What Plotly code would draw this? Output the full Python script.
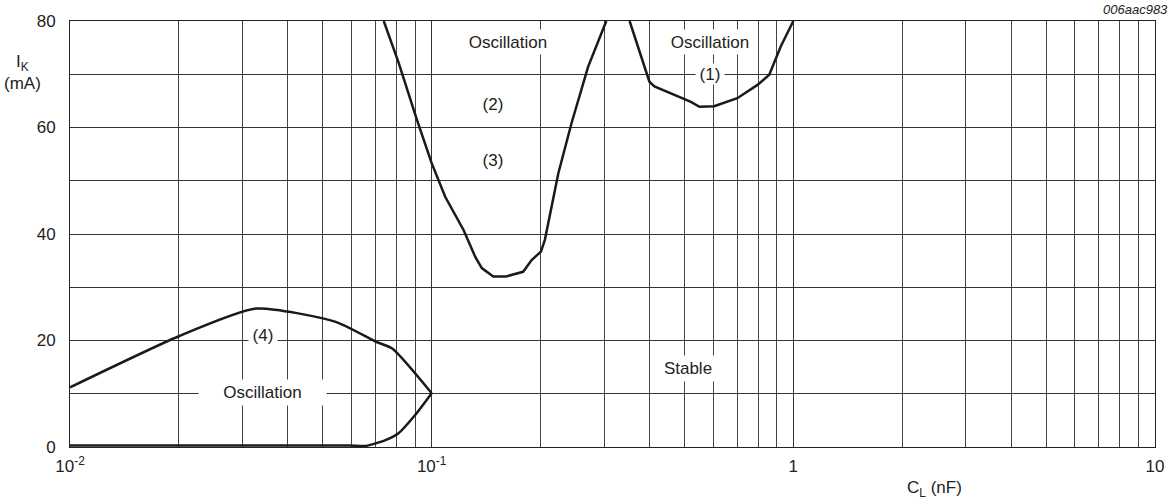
import math
import plotly.graph_objects as go

# Curve (4): upper boundary and lower boundary of the low-C oscillation region
c4_upper_x = [0.01, 0.02, 0.0327, 0.0543, 0.07, 0.0778, 0.1]
c4_upper_y = [11.2, 20.8, 26.0, 23.5, 19.8, 18.5, 10.1]
c4_lower_x = [0.1, 0.09, 0.081, 0.0745, 0.0657, 0.059, 0.01]
c4_lower_y = [10.1, 6.0, 2.6, 1.3, 0.2, 0.3, 0.3]

# Curves (2)/(3): U-shaped boundary
c23_x = [0.0737, 0.0811, 0.0911, 0.1, 0.109, 0.1225, 0.132, 0.1376, 0.148, 0.16,
         0.179, 0.189, 0.2005, 0.2056, 0.224, 0.2436, 0.2707, 0.304]
c23_y = [80, 72.1, 61.4, 53.3, 47.0, 40.75, 35.7, 33.6, 32.0, 32.0,
         32.9, 35.1, 36.7, 38.9, 51.4, 60.8, 71.4, 80]

# Curve (1)
c1_x = [0.3526, 0.4, 0.413, 0.479, 0.521, 0.55, 0.604, 0.70, 0.796, 0.858, 0.923, 1.0]
c1_y = [80, 68.6, 67.7, 65.8, 64.8, 63.9, 64.0, 65.5, 68.0, 69.9, 75.2, 80]

x_tickvals = [0.01, 0.1, 1, 10]
x_ticktext = ["10<sup>-2</sup>", "10<sup>-1</sup>", "1", "10"]
y_tickvals = [0, 20, 40, 60, 80]
minor_x = [m * d for d in (0.01, 0.1, 1) for m in range(2, 10)]

# label text, x, y, box width, box height
labels = [
    (0.163, 76.0, "Oscillation", 92, 24),
    (0.587, 76.0, "Oscillation", 92, 24),
    (0.587, 70.0, "(1)", 28, 20),
    (0.148, 64.4, "(2)", 28, 20),
    (0.148, 53.9, "(3)", 28, 20),
    (0.0341, 21.0, "(4)", 28, 20),
    (0.034, 10.3, "Oscillation", 127, 25),
    (0.511, 14.8, "Stable", 64, 25),
]

FONT = "Liberation Sans, Arial, sans-serif"
FS = 17
line = dict(color="#1a1a1a", width=2.5)

fig = go.Figure()
fig.add_trace(go.Scatter(x=c4_upper_x, y=c4_upper_y, mode="lines", line=dict(line, shape="spline", smoothing=0.6)))
fig.add_trace(go.Scatter(x=c4_lower_x, y=c4_lower_y, mode="lines", line=dict(line, shape="spline", smoothing=0.6)))
fig.add_trace(go.Scatter(x=c23_x, y=c23_y, mode="lines", line=line))
fig.add_trace(go.Scatter(x=c1_x, y=c1_y, mode="lines", line=line))

for x, y, t, w, h in labels:
    fig.add_annotation(x=math.log10(x), y=y, xref="x", yref="y", text=t, showarrow=False,
                       bgcolor="white", borderpad=0, width=w, height=h, align="center",
                       font=dict(family=FONT, size=FS, color="#222"))

fig.add_annotation(x=1.0, y=1.0, xref="paper", yref="paper", yshift=2, text="<i>006aac983</i>",
                   showarrow=False, xanchor="right", yanchor="bottom", xshift=15,
                   font=dict(family=FONT, size=13, color="#222"))
fig.add_annotation(x=0, y=0.88, xref="paper", yref="paper", xshift=-48, text="I<sub>K</sub><br>(mA)",
                   showarrow=False, xanchor="center", yanchor="middle",
                   font=dict(family=FONT, size=FS, color="#222"))
fig.add_annotation(x=0.797, y=0, xref="paper", yref="paper", yshift=-29, text="C<sub>L</sub> (nF)",
                   showarrow=False, xanchor="center", yanchor="top",
                   font=dict(family=FONT, size=FS, color="#222"))

fig.update_layout(
    width=1176, height=502,
    margin=dict(l=70, r=17, t=21, b=55),
    plot_bgcolor="white", paper_bgcolor="white",
    showlegend=False,
    font=dict(family=FONT, size=FS, color="#222"),
    xaxis=dict(type="log", range=[-2, 1], tickmode="array", tickvals=x_tickvals, ticktext=x_ticktext,
               showgrid=True, gridcolor="#333", gridwidth=1, ticks="", zeroline=False,
               showline=True, linecolor="#222", linewidth=1, mirror=True,
               minor=dict(tickmode="array", tickvals=minor_x, showgrid=True, gridcolor="#444", gridwidth=1, ticks=""),
               ticklabelstandoff=4),
    yaxis=dict(range=[0, 80], tickmode="array", tickvals=y_tickvals,
               showgrid=True, gridcolor="#333", gridwidth=1, ticks="", zeroline=False,
               showline=True, linecolor="#222", linewidth=1, mirror=True,
               minor=dict(tickmode="array", tickvals=[10, 30, 50, 70], showgrid=True, gridcolor="#333", gridwidth=1),
               ticklabelstandoff=10),
)

fig.write_html("out.html", config={"displayModeBar": False},
               post_script="document.body.style.margin='0px';document.body.style.overflow='hidden';")
